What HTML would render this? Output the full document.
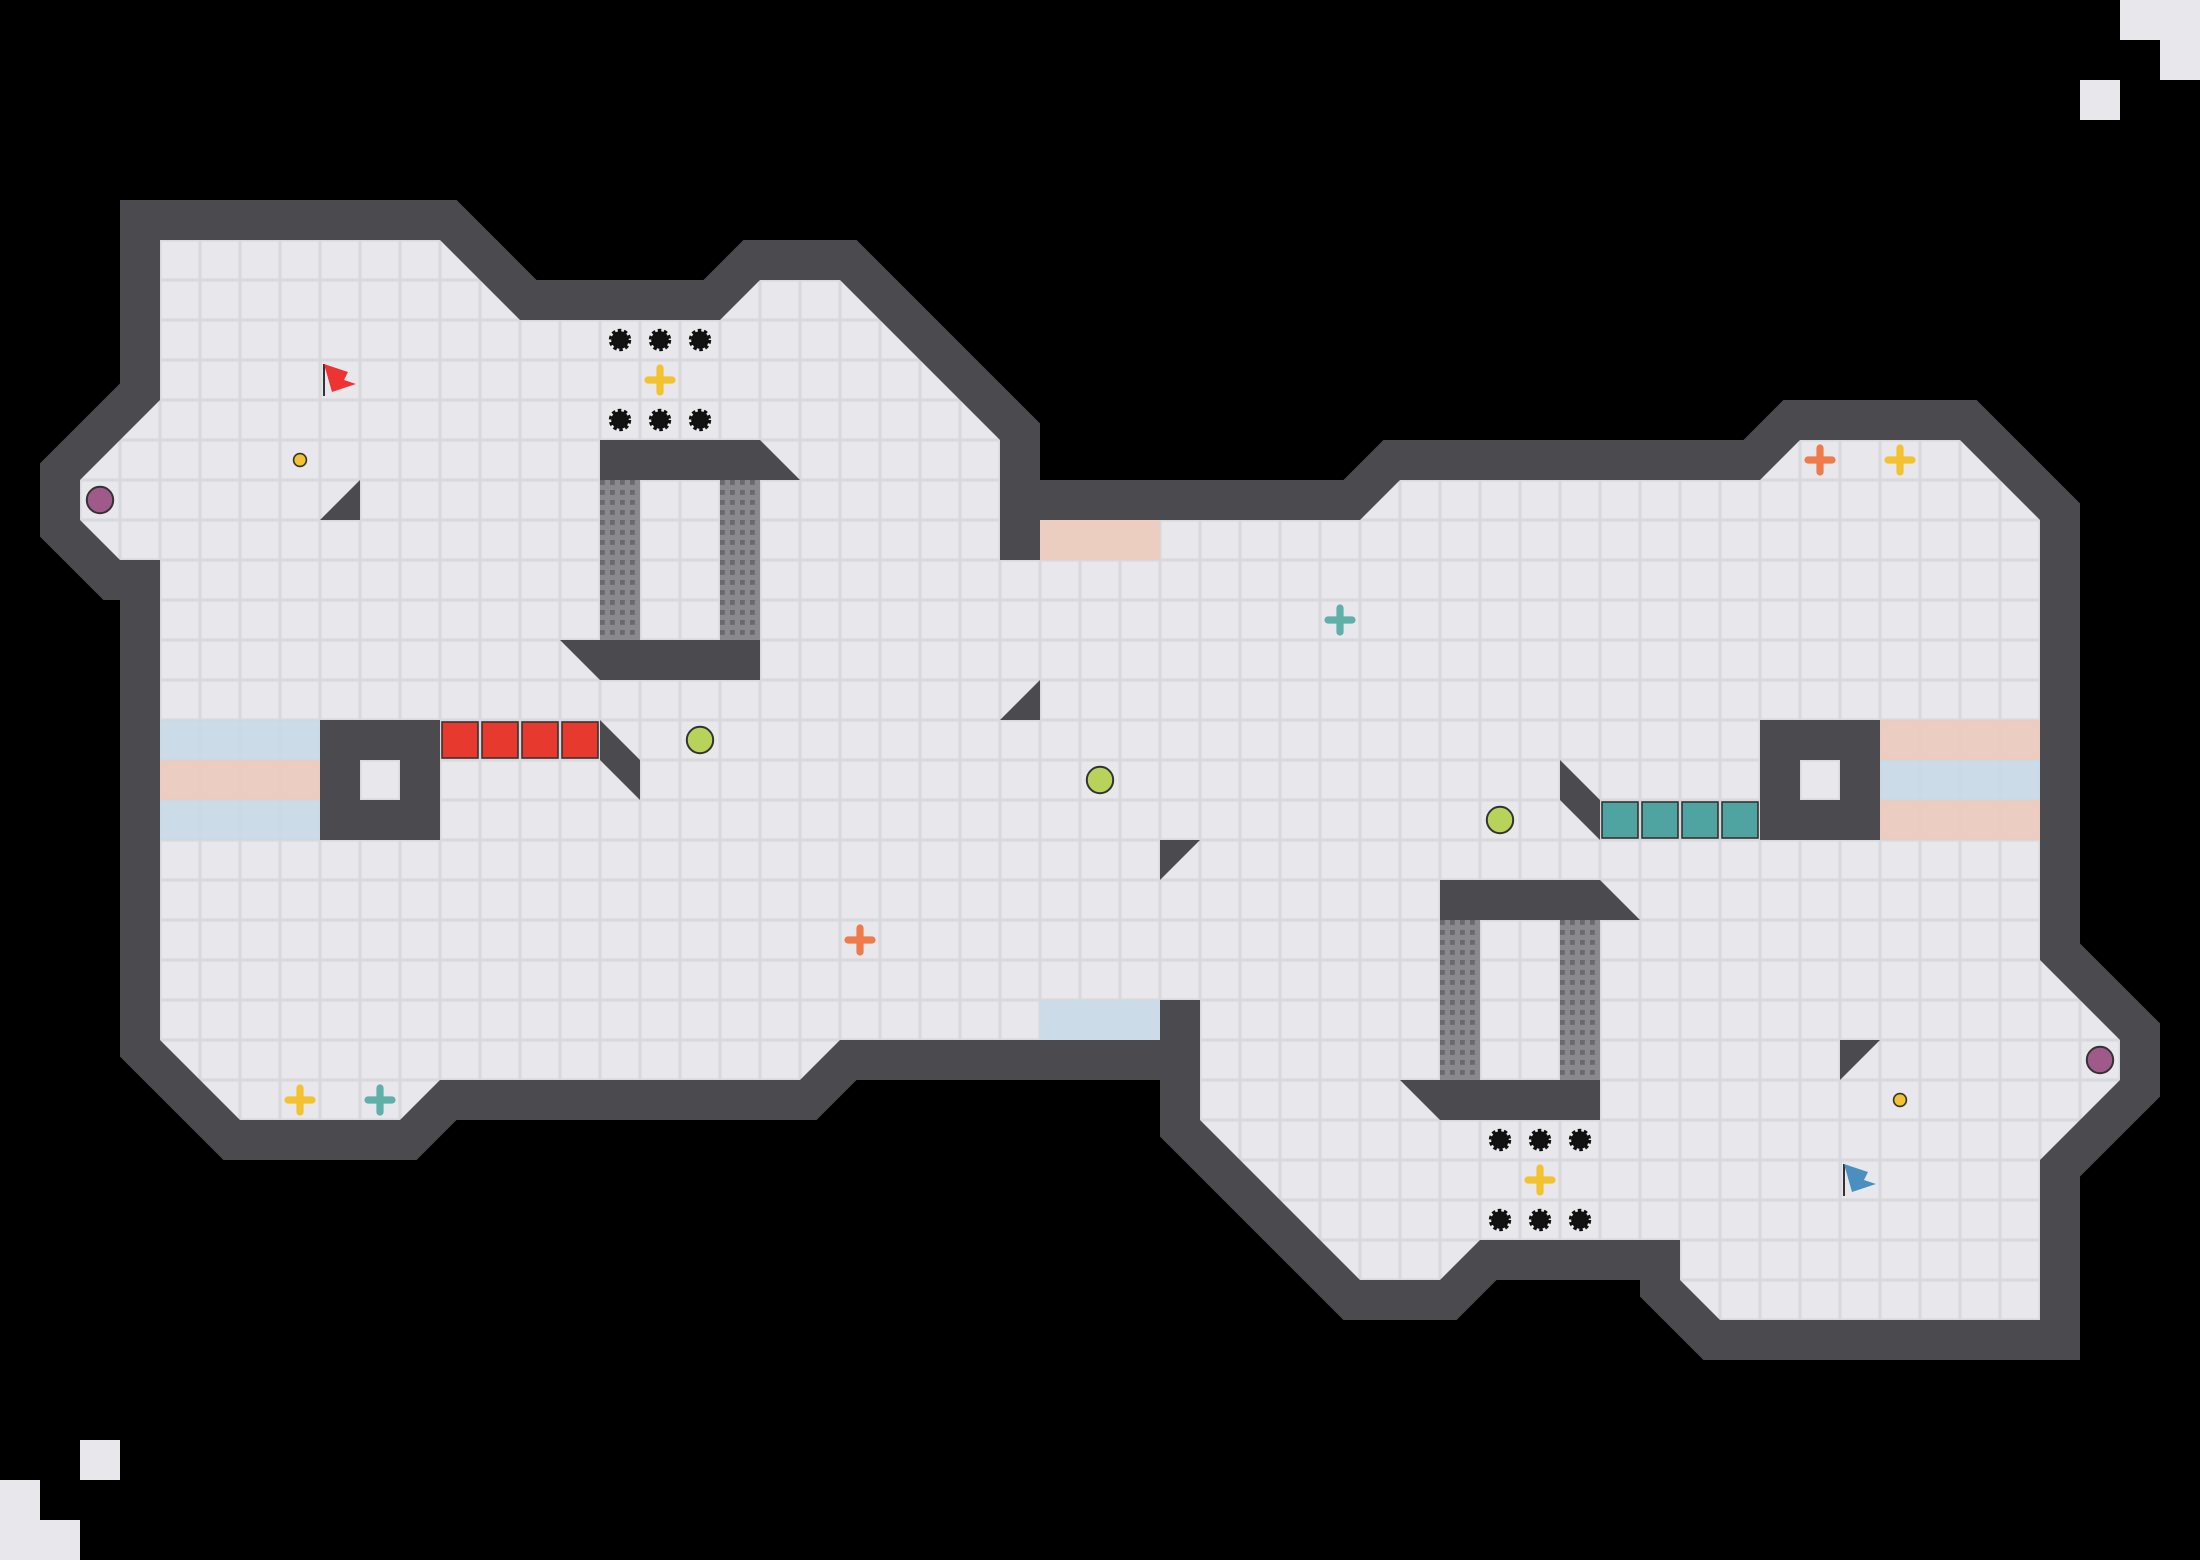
<!DOCTYPE html><html><head><style>html,body{margin:0;padding:0;background:#000;width:2200px;height:1560px;overflow:hidden}</style></head><body>
<svg width="2200" height="1560" viewBox="0 0 2200 1560" xmlns="http://www.w3.org/2000/svg">
<defs>
<pattern id="g" width="1" height="1" patternUnits="userSpaceOnUse"><rect width="1" height="1" fill="#d9d9dd"/><rect x="0.04" y="0.04" width="0.92" height="0.92" fill="#e8e8ec"/></pattern>
<pattern id="m" width="0.25" height="0.25" patternUnits="userSpaceOnUse"><rect width="0.25" height="0.25" fill="#8a8a8e"/><rect width="0.12" height="0.12" fill="#6a6a6e"/></pattern>
</defs>
<rect width="2200" height="1560" fill="#000"/>
<g transform="scale(40)">
<g fill="#e8e8ec"><rect x="53" y="0" width="2" height="1"/><rect x="54" y="1" width="1" height="1"/><rect x="52" y="2" width="1" height="1"/><rect x="2" y="36" width="1" height="1"/><rect x="0" y="37" width="1" height="1"/><rect x="0" y="38" width="2" height="1"/></g>
<polygon points="4,6 11,6 13,8 18,8 19,7 21,7 25,11 25,14 26,14 26,13 34,13 35,12 44,12 45,11 49,11 51,13 51,24 53,26 53,27 51,29 51,33 43,33 42,32 42,31 37,31 36,32 34,32 30,28 30,25 29,25 29,26 21,26 20,27 11,27 10,28 6,28 4,26 4,14 3,14 2,13 2,12 4,10" fill="url(#g)" stroke="#4a4a4f" stroke-width="2" stroke-linejoin="miter" stroke-miterlimit="3"/>
<polygon points="4,6 11,6 13,8 18,8 19,7 21,7 25,11 25,14 26,14 26,13 34,13 35,12 44,12 45,11 49,11 51,13 51,24 53,26 53,27 51,29 51,33 43,33 42,32 42,31 37,31 36,32 34,32 30,28 30,25 29,25 29,26 21,26 20,27 11,27 10,28 6,28 4,26 4,14 3,14 2,13 2,12 4,10" fill="url(#g)"/>
<!-- stripes -->
<g opacity="0.9">
<rect x="4" y="18" width="4" height="1" fill="#c8dae8"/><rect x="4" y="19" width="4" height="1" fill="#eccbbd"/><rect x="4" y="20" width="4" height="1" fill="#c8dae8"/>
<rect x="47" y="18" width="4" height="1" fill="#eccbbd"/><rect x="47" y="19" width="4" height="1" fill="#c8dae8"/><rect x="47" y="20" width="4" height="1" fill="#eccbbd"/>
<rect x="26" y="13" width="3" height="1" fill="#eccbbd"/><rect x="26" y="25" width="3" height="1" fill="#c8dae8"/>
</g>
<g fill="#4a4a4f">
<polygon points="15,11 19,11 20,12 15,12"/><polygon points="14,16 19,16 19,17 15,17"/>
<polygon points="36,22 40,22 41,23 36,23"/><polygon points="35,27 40,27 40,28 36,28"/>
<polygon points="15,18 16,19 16,20 15,19"/><polygon points="39,19 40,20 40,21 39,20"/>
<polygon points="8,13 9,12 9,13"/><polygon points="25,18 26,17 26,18"/><polygon points="29,21 30,21 29,22"/><polygon points="46,26 47,26 46,27"/>
<path d="M8,18h3v3h-3z M9,19v1h1v-1z" fill-rule="evenodd"/>
<path d="M44,18h3v3h-3z M45,19v1h1v-1z" fill-rule="evenodd"/>
</g>
<g fill="url(#m)"><rect x="15" y="12" width="1" height="4"/><rect x="18" y="12" width="1" height="4"/><rect x="36" y="23" width="1" height="4"/><rect x="39" y="23" width="1" height="4"/></g>
<g stroke="#333" stroke-width="0.04">
<rect x="11.05" y="18.05" width="0.9" height="0.9" fill="#e8392e"/><rect x="12.05" y="18.05" width="0.9" height="0.9" fill="#e8392e"/><rect x="13.05" y="18.05" width="0.9" height="0.9" fill="#e8392e"/><rect x="14.05" y="18.05" width="0.9" height="0.9" fill="#e8392e"/>
<rect x="40.05" y="20.05" width="0.9" height="0.9" fill="#4fa3a0"/><rect x="41.05" y="20.05" width="0.9" height="0.9" fill="#4fa3a0"/><rect x="42.05" y="20.05" width="0.9" height="0.9" fill="#4fa3a0"/><rect x="43.05" y="20.05" width="0.9" height="0.9" fill="#4fa3a0"/>
</g>
<g fill="#111" stroke="#111" stroke-width="0.12" stroke-dasharray="0.08 0.06">
<circle cx="15.5" cy="8.5" r="0.22"/><circle cx="16.5" cy="8.5" r="0.22"/><circle cx="17.5" cy="8.5" r="0.22"/>
<circle cx="15.5" cy="10.5" r="0.22"/><circle cx="16.5" cy="10.5" r="0.22"/><circle cx="17.5" cy="10.5" r="0.22"/>
<circle cx="37.5" cy="28.5" r="0.22"/><circle cx="38.5" cy="28.5" r="0.22"/><circle cx="39.5" cy="28.5" r="0.22"/>
<circle cx="37.5" cy="30.5" r="0.22"/><circle cx="38.5" cy="30.5" r="0.22"/><circle cx="39.5" cy="30.5" r="0.22"/>
</g>
<g stroke-width="0.18" stroke-linecap="round">
<path d="M16.5,9.2v0.6M16.2,9.5h0.6" stroke="#f2c230"/><path d="M38.5,29.2v0.6M38.2,29.5h0.6" stroke="#f2c230"/>
<path d="M47.5,11.2v0.6M47.2,11.5h0.6" stroke="#f2c230"/><path d="M7.5,27.2v0.6M7.2,27.5h0.6" stroke="#f2c230"/>
<path d="M45.5,11.2v0.6M45.2,11.5h0.6" stroke="#ef7a4a"/><path d="M21.5,23.2v0.6M21.2,23.5h0.6" stroke="#ef7a4a"/>
<path d="M33.5,15.2v0.6M33.2,15.5h0.6" stroke="#5fb0a8"/><path d="M9.5,27.2v0.6M9.2,27.5h0.6" stroke="#5fb0a8"/>
</g>
<g stroke="#333" stroke-width="0.05" fill="#b9d35a">
<circle cx="17.5" cy="18.5" r="0.33"/><circle cx="27.5" cy="19.5" r="0.33"/><circle cx="37.5" cy="20.5" r="0.33"/>
</g>
<g stroke="#333" stroke-width="0.05" fill="#a05a8a"><circle cx="2.5" cy="12.5" r="0.33"/><circle cx="52.5" cy="26.5" r="0.33"/></g>
<g stroke="#333" stroke-width="0.04" fill="#f2c230"><circle cx="7.5" cy="11.5" r="0.16"/><circle cx="47.5" cy="27.5" r="0.16"/></g>
<path d="M8.1,9.9V9.1" stroke="#333" stroke-width="0.05"/><path d="M8.1,9.1l0.6,0.2l-0.1,0.2l0.3,0.1l-0.6,0.2z" fill="#e33"/>
<path d="M46.1,29.9V29.1" stroke="#333" stroke-width="0.05"/><path d="M46.1,29.1l0.6,0.2l-0.1,0.2l0.3,0.1l-0.6,0.2z" fill="#4a8fc0"/>
</g>
</svg>
</body></html>
